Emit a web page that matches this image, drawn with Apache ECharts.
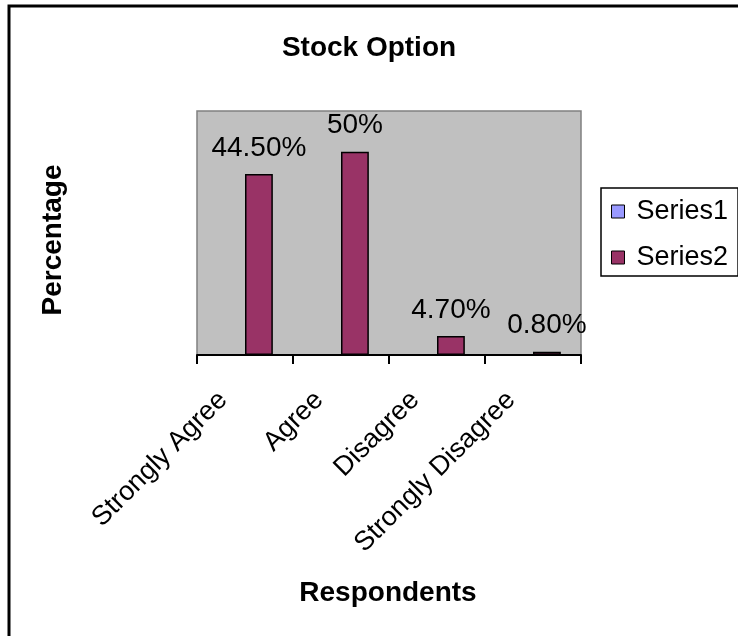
<!DOCTYPE html>
<html>
<head>
<meta charset="utf-8">
<script src="https://cdn.jsdelivr.net/npm/echarts@6/dist/echarts.min.js"></script>
<style>
  html, body { margin: 0; padding: 0; background: #ffffff; }
  #chart { width: 738px; height: 636px; }
</style>
</head>
<body>
<div id="chart"></div>
<script>
// Survey responses on stock options
const categories = ['Strongly Agree', 'Agree', 'Disagree', 'Strongly Disagree'];
const series1Values = [null, null, null, null];
const series2Values = [44.5, 50, 4.7, 0.8];
const series2Labels = ['44.50%', '50%', '4.70%', '0.80%'];
const seriesNames = ['Series1', 'Series2'];

const FONT = '"Liberation Sans", Arial, sans-serif';

const chart = echarts.init(document.getElementById('chart'), null, { renderer: 'canvas' });

chart.setOption({
  animation: false,
  backgroundColor: '#ffffff',
  title: {
    text: 'Stock Option',
    left: 'center',
    top: 29,
    textStyle: { fontFamily: FONT, fontSize: 28, fontWeight: 'bold', color: '#000' }
  },
  legend: {
    orient: 'vertical',
    left: 601,
    top: 188,
    padding: [10, 10, 5, 10],
    itemGap: 19,
    itemWidth: 13,
    itemHeight: 13,
    borderColor: '#000',
    borderWidth: 1.5,
    icon: 'rect',
    data: seriesNames,
    itemStyle: { borderColor: '#000', borderWidth: 1 },
    textStyle: { fontFamily: FONT, fontSize: 27, color: '#000', padding: [0, 0, 0, 7] }
  },
  grid: {
    left: 197,
    right: 157,
    top: 111,
    bottom: 281,
    show: true,
    backgroundColor: '#C0C0C0',
    borderColor: '#808080',
    borderWidth: 1.5
  },
  xAxis: {
    type: 'category',
    data: categories,
    boundaryGap: true,
    axisLine: { lineStyle: { color: '#000', width: 2 } },
    axisTick: { show: true, length: 9, alignWithLabel: false, lineStyle: { color: '#000', width: 2 } },
    axisLabel: {
      rotate: 45,
      interval: 0,
      margin: 19,
      padding: [0, 31, 0, 0],
      fontFamily: FONT,
      fontSize: 27,
      color: '#000'
    },
    splitLine: { show: false }
  },
  yAxis: {
    type: 'value',
    min: 0,
    max: 60,
    show: false,
    splitLine: { show: false }
  },
  series: [
    {
      name: seriesNames[0],
      type: 'bar',
      data: series1Values,
      barGap: '0%',
      barCategoryGap: '42%',
      itemStyle: { color: '#9999FF', borderColor: '#000', borderWidth: 1.5 }
    },
    {
      name: seriesNames[1],
      type: 'bar',
      data: series2Values,
      barGap: '0%',
      barCategoryGap: '42%',
      itemStyle: { color: '#993366', borderColor: '#000', borderWidth: 1.5 },
      label: {
        show: true,
        position: 'top',
        distance: 12,
        fontFamily: FONT,
        fontSize: 28,
        color: '#000',
        formatter: (p) => series2Labels[p.dataIndex]
      }
    }
  ],
  graphic: [
    {
      type: 'rect',
      silent: true,
      shape: { x: 9, y: 6, width: 800, height: 700 },
      style: { fill: null, stroke: '#000', lineWidth: 3 }
    },
    {
      type: 'text',
      silent: true,
      x: 53,
      y: 240,
      rotation: Math.PI / 2,
      style: {
        text: 'Percentage',
        fontFamily: FONT,
        fontSize: 28,
        fontWeight: 'bold',
        fill: '#000',
        align: 'center',
        verticalAlign: 'middle'
      }
    },
    {
      type: 'text',
      silent: true,
      x: 388,
      y: 593,
      style: {
        text: 'Respondents',
        fontFamily: FONT,
        fontSize: 28,
        fontWeight: 'bold',
        fill: '#000',
        align: 'center',
        verticalAlign: 'middle'
      }
    }
  ]
});
</script>
</body>
</html>
